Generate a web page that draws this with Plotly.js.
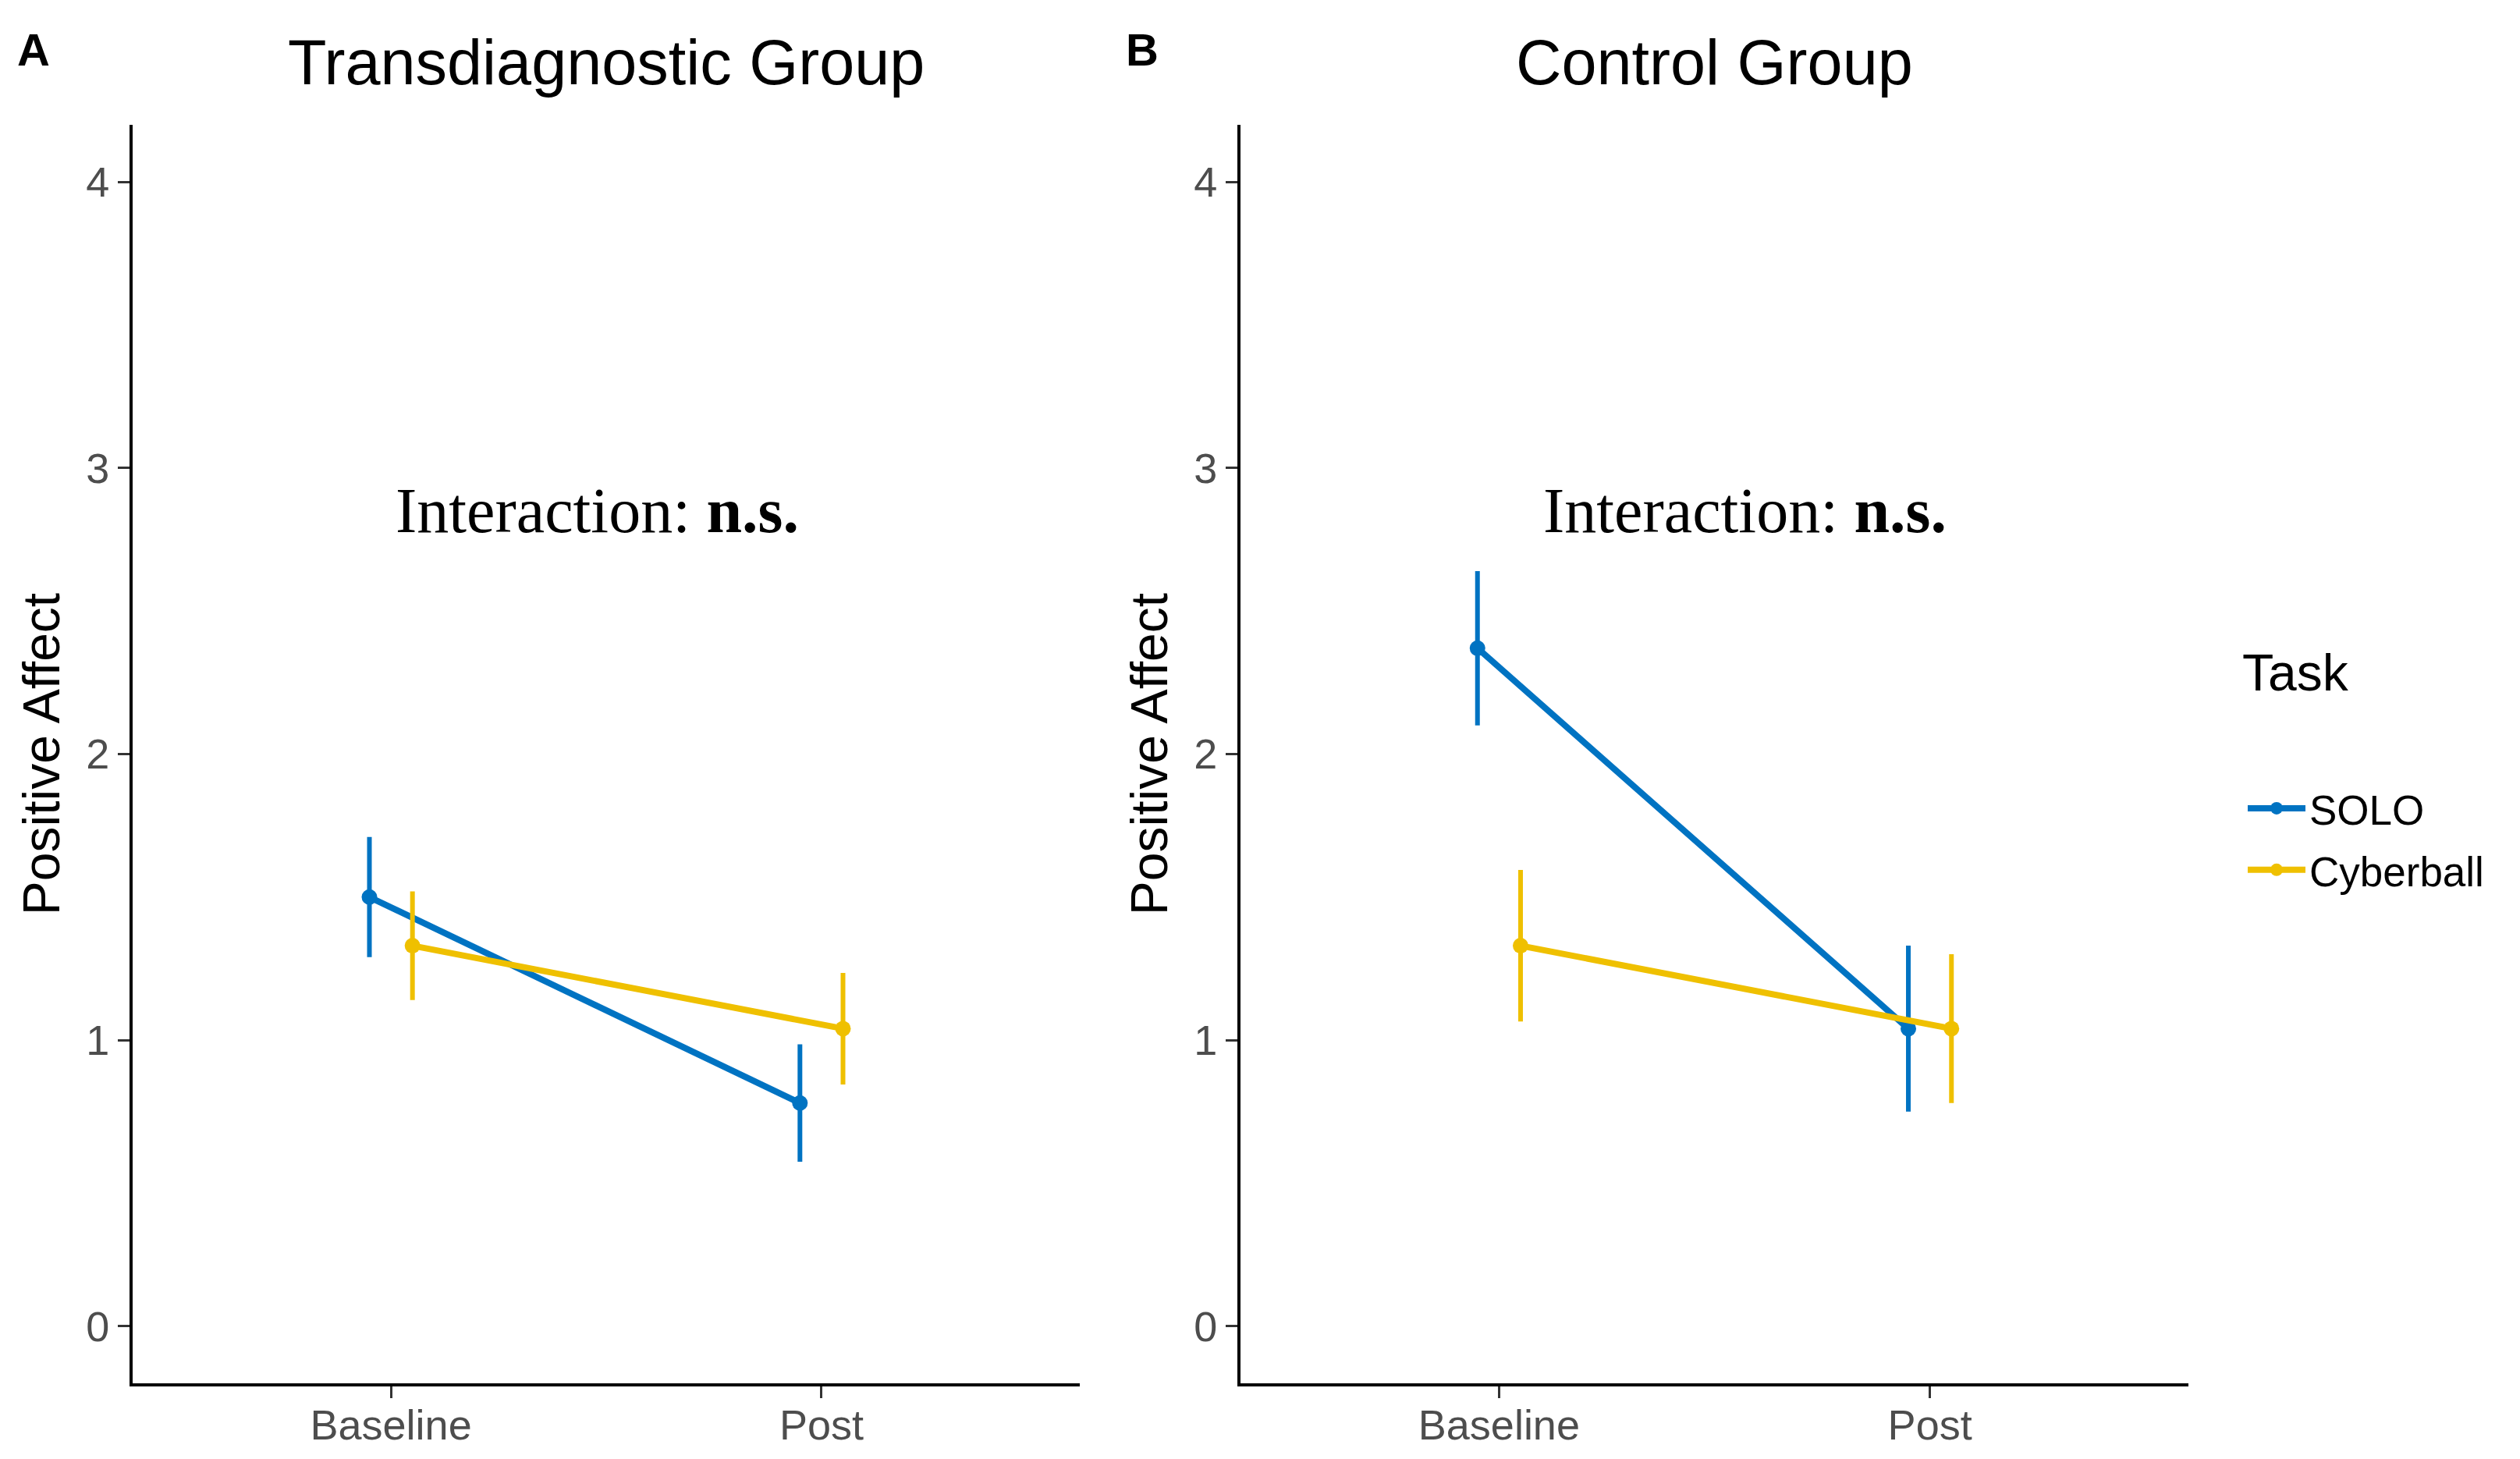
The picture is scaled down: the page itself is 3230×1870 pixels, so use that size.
<!DOCTYPE html>
<html>
<head>
<meta charset="utf-8">
<script src="https://cdn.plot.ly/plotly-3.0.1.min.js"></script>
<style>html,body{margin:0;padding:0;background:#fff;}#chart{width:3230px;height:1870px;}</style>
</head>
<body>
<div id="chart"></div>
<script>
// ---- data ----
const timepoints = ['Baseline', 'Post'];
const tasks = ['SOLO', 'Cyberball'];
const panelTitles = ['Transdiagnostic Group', 'Control Group'];
const panelLabels = ['A', 'B'];
const yTicks = [0, 1, 2, 3, 4];

// Transdiagnostic group: mean and error (half-width)
const transSoloMean = [1.50, 0.78];
const transSoloErr  = [0.21, 0.205];
const transCyberMean = [1.33, 1.04];
const transCyberErr  = [0.19, 0.195];

// Control group
const ctrlSoloMean = [2.37, 1.04];
const ctrlSoloErr  = [0.27, 0.29];
const ctrlCyberMean = [1.33, 1.04];
const ctrlCyberErr  = [0.265, 0.26];

const annotText = 'Interaction: <b>n.s.</b>';

// ---- styles ----
const colors = {SOLO: '#0073C2', Cyberball: '#EFC000'};
const dodge = 0.05;
const W = 3230, H = 1870;

function xpos(offset) { return timepoints.map((_, i) => i + 1 + offset); }

function makeTrace(name, mean, err, axisIdx, showlegend) {
  const off = name === 'SOLO' ? -dodge : dodge;
  return {
    type: 'scatter', mode: 'lines+markers', name: name,
    x: xpos(off), y: mean,
    xaxis: axisIdx === 1 ? 'x' : 'x2', yaxis: axisIdx === 1 ? 'y' : 'y2',
    line: {color: colors[name], width: 8},
    marker: {color: colors[name], size: 20},
    error_y: {type: 'data', array: err, visible: true, color: colors[name], thickness: 6, width: 0},
    showlegend: showlegend, legendgroup: name, hoverinfo: 'skip'
  };
}

const data = [
  makeTrace('SOLO', transSoloMean, transSoloErr, 1, true),
  makeTrace('Cyberball', transCyberMean, transCyberErr, 1, true),
  makeTrace('SOLO', ctrlSoloMean, ctrlSoloErr, 2, false),
  makeTrace('Cyberball', ctrlCyberMean, ctrlCyberErr, 2, false)
];

const px = v => v / W;
const py = v => 1 - v / H;

function xaxis(domain, anchor) {
  return {
    domain: domain, anchor: anchor, range: [0.4, 2.6],
    tickvals: [1, 2], ticktext: timepoints,
    showgrid: false, zeroline: false,
    showline: true, linecolor: '#000', linewidth: 4,
    ticks: 'outside', ticklen: 15, tickwidth: 3, tickcolor: '#333',
    ticklabelstandoff: -12,
    tickfont: {family: 'Liberation Sans, Arial, sans-serif', size: 54, color: '#4D4D4D'},
    fixedrange: true
  };
}
function yaxis(anchor) {
  return {
    domain: [py(1773), py(160)], anchor: anchor, range: [-0.2, 4.2],
    tickvals: yTicks, ticktext: yTicks.map(String),
    showgrid: false, zeroline: false,
    showline: true, linecolor: '#000', linewidth: 4,
    ticks: 'outside', ticklen: 15, tickwidth: 3, tickcolor: '#333',
    tickfont: {family: 'Liberation Sans, Arial, sans-serif', size: 54, color: '#4D4D4D'},
    title: {text: 'Positive Affect', font: {family: 'Liberation Sans, Arial, sans-serif', size: 66, color: '#000'}, standoff: 13},
    fixedrange: true
  };
}

const layout = {
  width: W, height: H,
  margin: {l: 0, r: 0, t: 0, b: 0},
  paper_bgcolor: '#fff', plot_bgcolor: '#fff',
  showlegend: true,
  xaxis: xaxis([px(170), px(1384)], 'y'),
  yaxis: yaxis('x'),
  xaxis2: xaxis([px(1590), px(2805)], 'y2'),
  yaxis2: yaxis('x2'),
  legend: {
    x: px(2876), y: py(995), xanchor: 'left', yanchor: 'top',
    font: {family: 'Liberation Sans, Arial, sans-serif', size: 53, color: '#000'},
    bgcolor: 'rgba(0,0,0,0)', itemwidth: 74, traceorder: 'grouped', tracegroupgap: 7
  },
  annotations: [
    {text: panelTitles[0], xref: 'paper', yref: 'paper', x: px(777), y: py(80), xanchor: 'center', yanchor: 'middle', showarrow: false,
     font: {family: 'Liberation Sans, Arial, sans-serif', size: 81, color: '#000'}},
    {text: panelTitles[1], xref: 'paper', yref: 'paper', x: px(2197), y: py(80), xanchor: 'center', yanchor: 'middle', showarrow: false,
     font: {family: 'Liberation Sans, Arial, sans-serif', size: 81, color: '#000'}},
    {text: '<b>' + panelLabels[0] + '</b>', xref: 'paper', yref: 'paper', x: px(20), y: py(63), xanchor: 'left', yanchor: 'middle', showarrow: false,
     font: {family: 'Liberation Sans, Arial, sans-serif', size: 58, color: '#000'}},
    {text: '<b>' + panelLabels[1] + '</b>', xref: 'paper', yref: 'paper', x: px(1441), y: py(63), xanchor: 'left', yanchor: 'middle', showarrow: false,
     font: {family: 'Liberation Sans, Arial, sans-serif', size: 58, color: '#000'}},
    {text: annotText, xref: 'x', yref: 'y', x: 1.48, y: 2.85, xanchor: 'center', yanchor: 'middle', showarrow: false,
     font: {family: 'Liberation Serif, Times New Roman, serif', size: 82, color: '#000'}},
    {text: annotText, xref: 'x2', yref: 'y2', x: 1.57, y: 2.85, xanchor: 'center', yanchor: 'middle', showarrow: false,
     font: {family: 'Liberation Serif, Times New Roman, serif', size: 82, color: '#000'}},
    {text: 'Task', xref: 'paper', yref: 'paper', x: px(2872), y: py(862), xanchor: 'left', yanchor: 'middle', showarrow: false,
     font: {family: 'Liberation Sans, Arial, sans-serif', size: 66, color: '#000'}}
  ]
};

Plotly.newPlot('chart', data, layout, {staticPlot: true, displayModeBar: false});
</script>
</body>
</html>
